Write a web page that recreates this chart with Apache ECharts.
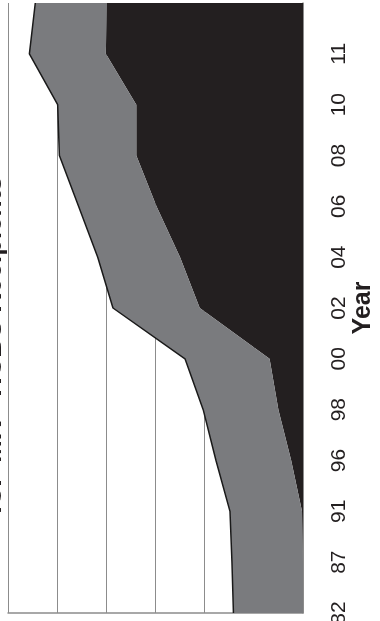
<!DOCTYPE html>
<html><head><meta charset="utf-8">
<script src="https://cdn.jsdelivr.net/npm/echarts@6/dist/echarts.min.js"></script>
<style>html,body{margin:0;padding:0;background:#fff;overflow:hidden}#c{width:380px;height:621px}</style>
</head><body><div id="c"></div>
<script>
// Data (stacked area, rotated layout)
const years = ['82','87','91','96','98','00','02','04','06','08','10','11','12'];
const hcbsValues = [0,0,20,240,500,680,2100,2500,2980,3390,3390,4010,3990];   // dark band (next to axis)
const icfValues  = [1415,1445,1465,1530,1530,1720,1765,1675,1585,1565,1600,1555,1455]; // grey band stacked on top
const titleText = 'ICF MR - HCBS Recipients';
const categoryAxisName = 'Year';
const valueMin = 0, valueMax = 6000, valueStep = 1000;

const FONT = 'Liberation Sans, Arial, Helvetica, sans-serif';
const chart = echarts.init(document.getElementById('c'), null, {renderer: 'canvas'});
chart.setOption({
  animation: false,
  backgroundColor: '#ffffff',
  grid: {left: 8, right: 77, top: 3, bottom: 8, containLabel: false, outerBoundsMode: 'none'},
  graphic: [{
    type: 'text', x: 7, y: 345, rotation: Math.PI / 2, z: 100,
    style: {text: titleText, font: 'bold 27px ' + FONT, fill: '#231f20',
            textAlign: 'center', textVerticalAlign: 'bottom'}
  }],
  xAxis: {
    type: 'value', inverse: true, min: valueMin, max: valueMax, interval: valueStep,
    axisLabel: {show: false}, axisTick: {show: false},
    axisLine: {show: true, lineStyle: {color: '#8c8c8c', width: 1.5}},
    splitLine: {show: true, lineStyle: {color: '#8c8c8c', width: 1}}
  },
  yAxis: {
    type: 'category', position: 'right', data: years, boundaryGap: false,
    axisLine: {show: true, lineStyle: {color: '#8c8c8c', width: 1.5}},
    axisTick: {show: false}, splitLine: {show: false},
    axisLabel: {rotate: 90, margin: 26, fontSize: 21, fontFamily: FONT, color: '#231f20',
                interval: function (i) { return i < 12; }},
    name: categoryAxisName, nameLocation: 'middle', nameRotate: 90, nameGap: 48,
    nameMoveOverlap: false,
    nameTextStyle: {fontFamily: FONT, fontSize: 25, fontWeight: 'bold', color: '#231f20'}
  },
  series: [
    {type: 'line', name: 'HCBS', stack: 'total', data: hcbsValues, symbol: 'none',
     lineStyle: {width: 0, opacity: 0}, areaStyle: {color: '#231f20', opacity: 1}, z: 2},
    {type: 'line', name: 'ICF/MR', stack: 'total', data: icfValues, symbol: 'none',
     lineStyle: {width: 1.5, color: '#1a1a1a'}, areaStyle: {color: '#7a7b7e', opacity: 1}, z: 3}
  ]
});
</script></body></html>
